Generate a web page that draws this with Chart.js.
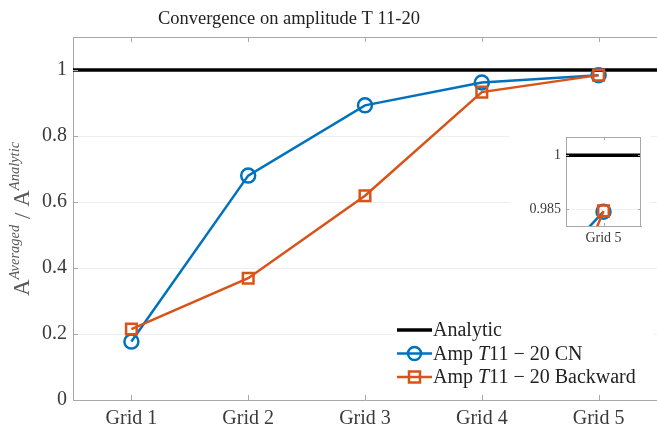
<!DOCTYPE html>
<html lang="en">
<head>
    <meta charset="UTF-8">
    <title>Convergence on amplitude T 11-20</title>
    <style>
        body {
            margin: 0;
            background-color: #FFFFFF;
        }
        .wrap {
            position: relative;
            width: 657px;
            height: 434px;
        }
        #mainChart {
            position: absolute;
            left: 0;
            top: 0;
        }
        #insetChart {
            position: absolute;
            left: 510px;
            top: 128px;
            background-color: #FFFFFF;
        }
    </style>
</head>
<body>
    <div class="wrap">
        <canvas id="mainChart" width="657" height="434"></canvas>
        <canvas id="insetChart" width="140" height="128"></canvas>
    </div>

    <script src="https://cdn.jsdelivr.net/npm/chart.js"></script>
    <script>
        // Data
        const grids = ['Grid 1', 'Grid 2', 'Grid 3', 'Grid 4', 'Grid 5'];
        const ampCN = [0.177, 0.680, 0.893, 0.962, 0.9843];
        const ampBackward = [0.215, 0.369, 0.619, 0.933, 0.9845];
        const analyticValue = 1;
        const yTicks = [0, 0.2, 0.4, 0.6, 0.8, 1];
        const insetYTicks = [0.985, 1];
        const insetGrids = ['Grid 5'];

        const BLUE = '#0072BD';
        const ORANGE = '#D95319';
        const AXIS = '#a8a8a8';
        const TEXT = '#3a3a3a';
        const SERIF = '"Liberation Serif", "Times New Roman", serif';

        // grid index -> x position (1..n)
        const toPoints = vals => vals.map((v, i) => ({ x: i + 1, y: v }));
        const xMin = 0.5, xMax = grids.length + 0.5;

        // inner tick marks + top border
        const frameTicks = {
            id: 'frameTicks',
            afterDraw(chart, args, opts) {
                const { ctx, chartArea: a, scales } = chart;
                const len = opts.len || 5;
                ctx.save();
                ctx.strokeStyle = AXIS;
                ctx.lineWidth = 1;
                ctx.beginPath();
                ctx.moveTo(a.left, a.top + 0.5);
                ctx.lineTo(a.right, a.top + 0.5);
                if (opts.right) {
                    ctx.moveTo(a.right - 0.5, a.top);
                    ctx.lineTo(a.right - 0.5, a.bottom);
                }
                scales.x.ticks.forEach(t => {
                    const px = Math.round(scales.x.getPixelForValue(t.value)) + 0.5;
                    ctx.moveTo(px, a.bottom);
                    ctx.lineTo(px, a.bottom - len);
                    ctx.moveTo(px, a.top);
                    ctx.lineTo(px, a.top + len);
                });
                scales.y.ticks.forEach(t => {
                    const py = Math.round(scales.y.getPixelForValue(t.value)) + 0.5;
                    ctx.moveTo(a.left, py);
                    ctx.lineTo(a.left + len, py);
                    if (opts.right) {
                        ctx.moveTo(a.right, py);
                        ctx.lineTo(a.right - len, py);
                    }
                });
                ctx.stroke();
                ctx.restore();
            }
        };

        // title, y label and legend for the main axes
        const decorations = {
            id: 'decorations',
            afterDraw(chart) {
                const { ctx } = chart;
                ctx.save();
                ctx.fillStyle = '#222222';
                ctx.textBaseline = 'alphabetic';

                // title
                ctx.font = '18.5px ' + SERIF;
                ctx.textAlign = 'center';
                ctx.fillText('Convergence on amplitude T 11-20', 289, 24);

                // y label  A^{Averaged} / A^{Analytic}
                ctx.translate(29, 219);
                ctx.rotate(-Math.PI / 2);
                ctx.fillStyle = '#5a5a5a';
                const parts = [
                    { t: 'A', f: '23px ' + SERIF, dy: 0 },
                    { t: 'Averaged', f: 'italic 14.5px ' + SERIF, dy: -10 },
                    { t: ' / ', f: '23px ' + SERIF, dy: 1 },
                    { t: 'A', f: '23px ' + SERIF, dy: 0 },
                    { t: 'Analytic', f: 'italic 14.5px ' + SERIF, dy: -10 }
                ];
                let total = 0;
                parts.forEach(p => { ctx.font = p.f; p.w = ctx.measureText(p.t).width; total += p.w; });
                let x = -total / 2;
                ctx.textAlign = 'left';
                parts.forEach(p => { ctx.font = p.f; ctx.fillText(p.t, x, p.dy); x += p.w; });
                ctx.restore();

                // legend
                ctx.save();
                ctx.fillStyle = '#FFFFFF';
                ctx.fillRect(395, 318, 259, 76);
                const items = [
                    { label: [['Analytic', '']], color: '#000000', lw: 3.5, marker: null },
                    { label: [['Amp ', ''], ['T', 'italic '], ['11 \u2212 20 CN', '']], color: BLUE, lw: 2.5, marker: 'circle' },
                    { label: [['Amp ', ''], ['T', 'italic '], ['11 \u2212 20 Backward', '']], color: ORANGE, lw: 2.5, marker: 'rect' }
                ];
                items.forEach((it, i) => {
                    const cy = 330 + i * 23.5;
                    ctx.strokeStyle = it.color;
                    ctx.lineWidth = it.lw;
                    ctx.beginPath();
                    ctx.moveTo(397, cy);
                    ctx.lineTo(432, cy);
                    ctx.stroke();
                    if (it.marker === 'circle') {
                        ctx.beginPath();
                        ctx.arc(414.5, cy, 6.5, 0, Math.PI * 2);
                        ctx.stroke();
                    } else if (it.marker === 'rect') {
                        ctx.strokeRect(409, cy - 5.5, 11, 11);
                    }
                    ctx.fillStyle = '#222222';
                    let tx = 433;
                    it.label.forEach(([s, style]) => {
                        ctx.font = style + '20px ' + SERIF;
                        ctx.fillText(s, tx, cy + 6);
                        tx += ctx.measureText(s).width;
                    });
                });
                ctx.restore();
            }
        };

        function lineDataset(label, values, color, style, z) {
            return {
                label: label,
                data: toPoints(values),
                borderColor: color,
                backgroundColor: 'rgba(0,0,0,0)',
                borderWidth: 2.5,
                pointStyle: style,
                pointRadius: style === 'rect' ? 7.5 : 7,
                pointBorderWidth: 2.5,
                pointBorderColor: color,
                pointBackgroundColor: 'rgba(0,0,0,0)',
                tension: 0,
                order: z
            };
        }

        function analyticDataset(x0, x1) {
            return {
                label: 'Analytic',
                data: [{ x: x0, y: analyticValue }, { x: x1, y: analyticValue }],
                borderColor: '#000000',
                borderWidth: 3.5,
                pointRadius: 0,
                order: 3
            };
        }

        function initMain() {
            const ctx = document.getElementById('mainChart').getContext('2d');
            new Chart(ctx, {
                type: 'line',
                data: {
                    datasets: [
                        analyticDataset(xMin, xMax),
                        lineDataset('Amp T11-20 CN', ampCN, BLUE, 'circle', 2),
                        lineDataset('Amp T11-20 Backward', ampBackward, ORANGE, 'rect', 1)
                    ]
                },
                options: {
                    responsive: false,
                    animation: false,
                    layout: { autoPadding: false, padding: { top: 37, right: 0, left: 0, bottom: 0 } },
                    plugins: {
                        legend: { display: false },
                        tooltip: { enabled: false },
                        frameTicks: { len: 5 }
                    },
                    scales: {
                        x: {
                            type: 'linear',
                            min: xMin,
                            max: xMax,
                            afterBuildTicks: s => { s.ticks = grids.map((g, i) => ({ value: i + 1 })); },
                            afterFit: s => { s.height = 34; s.paddingLeft = 0; s.paddingRight = 0; },
                            grid: { display: false, drawTicks: false },
                            border: { color: AXIS },
                            ticks: {
                                padding: 7,
                                color: TEXT,
                                font: { family: SERIF, size: 20 },
                                callback: v => grids[v - 1]
                            }
                        },
                        y: {
                            min: 0,
                            max: 1.1,
                            afterBuildTicks: s => { s.ticks = yTicks.map(v => ({ value: v })); },
                            afterFit: s => { s.width = 73; s.paddingTop = 0; s.paddingBottom = 0; },
                            grid: { color: '#eeeeee', drawTicks: false },
                            border: { color: AXIS },
                            ticks: {
                                padding: 6,
                                color: TEXT,
                                font: { family: SERIF, size: 20 },
                                callback: v => String(v)
                            }
                        }
                    }
                },
                plugins: [frameTicks, decorations]
            });
        }

        function initInset() {
            const ctx = document.getElementById('insetChart').getContext('2d');
            new Chart(ctx, {
                type: 'line',
                data: {
                    datasets: [
                        analyticDataset(xMin, xMax),
                        lineDataset('Amp T11-20 CN', ampCN, BLUE, 'circle', 2),
                        lineDataset('Amp T11-20 Backward', ampBackward, ORANGE, 'rect', 1)
                    ]
                },
                options: {
                    responsive: false,
                    animation: false,
                    layout: { autoPadding: false, padding: { top: 9, right: 9, left: 0, bottom: 0 } },
                    plugins: {
                        legend: { display: false },
                        tooltip: { enabled: false },
                        frameTicks: { len: 3, right: true }
                    },
                    scales: {
                        x: {
                            type: 'linear',
                            min: 4.5,
                            max: 5.5,
                            afterBuildTicks: s => { s.ticks = insetGrids.map(() => ({ value: grids.length })); },
                            afterFit: s => { s.height = 30; s.paddingLeft = 0; s.paddingRight = 0; },
                            grid: { display: false, drawTicks: false },
                            border: { color: AXIS },
                            ticks: {
                                padding: 4,
                                color: TEXT,
                                font: { family: SERIF, size: 14 },
                                callback: () => insetGrids[0]
                            }
                        },
                        y: {
                            min: 0.9803,
                            max: 1.0051,
                            afterBuildTicks: s => { s.ticks = insetYTicks.map(v => ({ value: v })); },
                            afterFit: s => { s.width = 56; s.paddingTop = 0; s.paddingBottom = 0; },
                            grid: { color: '#eeeeee', drawTicks: false },
                            border: { color: AXIS },
                            ticks: {
                                padding: 5,
                                color: TEXT,
                                font: { family: SERIF, size: 14 },
                                callback: v => String(v)
                            }
                        }
                    }
                },
                plugins: [frameTicks]
            });
        }

        window.onload = function() {
            initMain();
            initInset();
        };
    </script>
</body>
</html>
